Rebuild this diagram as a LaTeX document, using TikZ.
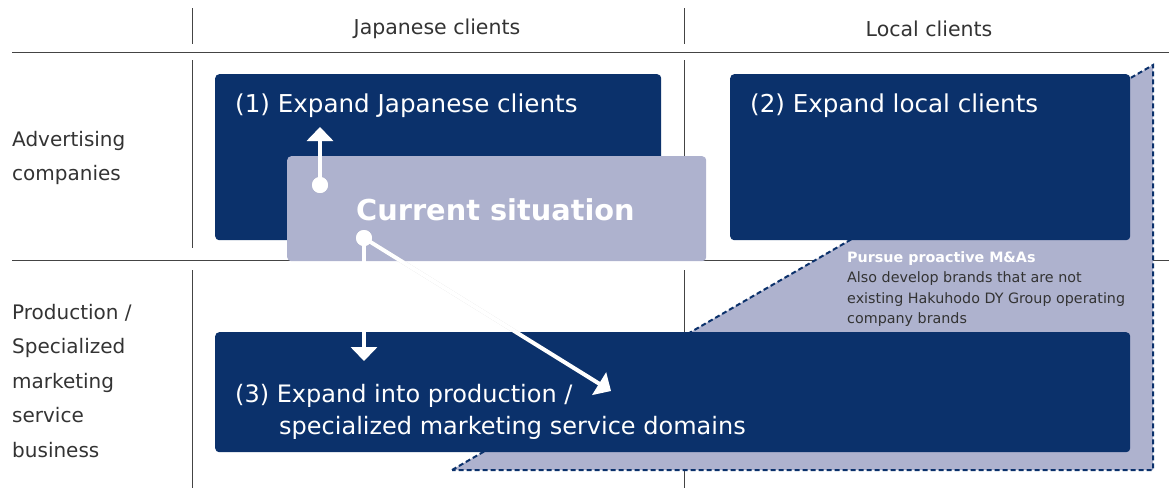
\documentclass[tikz,border=0pt]{standalone}
\usepackage{fontspec}
\setmainfont{DejaVu Sans}
\usetikzlibrary{arrows.meta}
\definecolor{navy}{HTML}{0B316B}
\definecolor{lav}{HTML}{AEB2CE}
\definecolor{ink}{HTML}{333333}
\definecolor{rule}{HTML}{444444}
\tikzset{
  box/.style={fill=navy, rounded corners=4pt, inner sep=0pt, anchor=north west},
  curbox/.style={fill=lav, rounded corners=4pt, inner sep=0pt, anchor=north west},
  title/.style={text=white, anchor=west, inner sep=0pt, font=\fontsize{24.6}{32}\selectfont, align=left},
  head/.style={text=ink, inner sep=0pt, font=\fontsize{20.5}{22}\selectfont},
  rowlbl/.style={text=ink, inner sep=0pt, anchor=north west, align=left, font=\fontsize{20}{34.5}\selectfont},
  grid/.style={draw=rule, line width=0.8pt},
  dot/.style={circle, fill=white, inner sep=0pt, minimum size=16pt},
  shadowdot/.style={circle, fill=black!50, opacity=0.3, inner sep=0pt, minimum size=16pt},
  arr/.style={draw=white, line width=4pt, -{Triangle[width=26pt,length=14pt]}},
  arrshadow/.style={draw=black!50, opacity=0.3, line width=4pt, -{Triangle[width=26pt,length=14pt]}},
  mabox/.style={fill=lav, draw=navy, line width=2pt, dash pattern=on 5pt off 3pt},
}
\begin{document}
\begin{tikzpicture}[x=1pt,y=-1pt]
\useasboundingbox (0,0) rectangle (1169,488);

% table rules
\draw[grid] (12,52) -- (1169,52);
\draw[grid] (12,260) -- (1169,260);
\foreach \xx in {192,684} {
  \draw[grid] (\xx,8) -- (\xx,44);
  \draw[grid] (\xx,60) -- (\xx,248);
  \draw[grid] (\xx,270) -- (\xx,488);
}

% column and row headings
\node[head] (hjp) at (437,29) {Japanese clients};
\node[head] (hlc) at (929,29) {Local clients};
\node[rowlbl] (radv) at (12,131) {Advertising\\companies};
\node[rowlbl] (rprod) at (12,304) {Production /\\Specialized\\marketing\\service\\business};

% M&A region
\path[mabox] (452,470) -- (1153,65) -- (1153,470) -- cycle;

% strategy boxes
\node[box, minimum width=446pt, minimum height=166pt] (b1) at (215,74) {};
\node[box, minimum width=400pt, minimum height=166pt] (b2) at (730,74) {};
\node[box, minimum width=915pt, minimum height=120pt] (b3) at (215,332) {};
\node[curbox, minimum width=419pt, minimum height=105pt] (cur) at (287,156) {};

\node[title] (t1) at (235,106) {(1) Expand Japanese clients};
\node[title] (t2) at (750,106) {(2) Expand local clients};
\node[title, anchor=north west, font=\fontsize{24}{32}\selectfont] (t3) at (235,384)
  {(3) Expand into production /\\\hspace*{44pt}specialized marketing service domains};
\node[text=white, anchor=west, inner sep=0pt, font=\fontsize{28.8}{30}\selectfont\bfseries] (tcur) at (356,210) {Current situation};

% M&A note
\node[anchor=north west, inner sep=0pt, align=left, text=ink, font=\fontsize{14.3}{20.5}\selectfont] (ma) at (847,251)
  {\textcolor{white}{\bfseries Pursue proactive M\&As}\\Also develop brands that are not\\existing Hakuhodo DY Group operating\\company brands};

% arrows out of the current situation
\coordinate (s1) at (320,185);
\coordinate (s2) at (364,238);
\coordinate (e1) at (320,127);
\coordinate (e2) at (364,361);
\coordinate (e3) at (611,391);
\begin{scope}[shift={(1.5,1.5)}]
  \draw[arrshadow] (s1) -- (e1);
  \draw[arrshadow] (s2) -- (e2);
  \draw[arrshadow] (s2) -- (e3);
  \node[shadowdot] (sd1) at (s1) {};
  \node[shadowdot] (sd2) at (s2) {};
\end{scope}
\node[dot] (d1) at (s1) {};
\node[dot] (d2) at (s2) {};
\draw[arr] (d1.center) -- (e1);
\draw[arr] (d2.center) -- (e2);
\draw[arr] (d2.center) -- (e3);
\node[dot] at (s1) {};
\node[dot] at (s2) {};
\end{tikzpicture}
\end{document}
